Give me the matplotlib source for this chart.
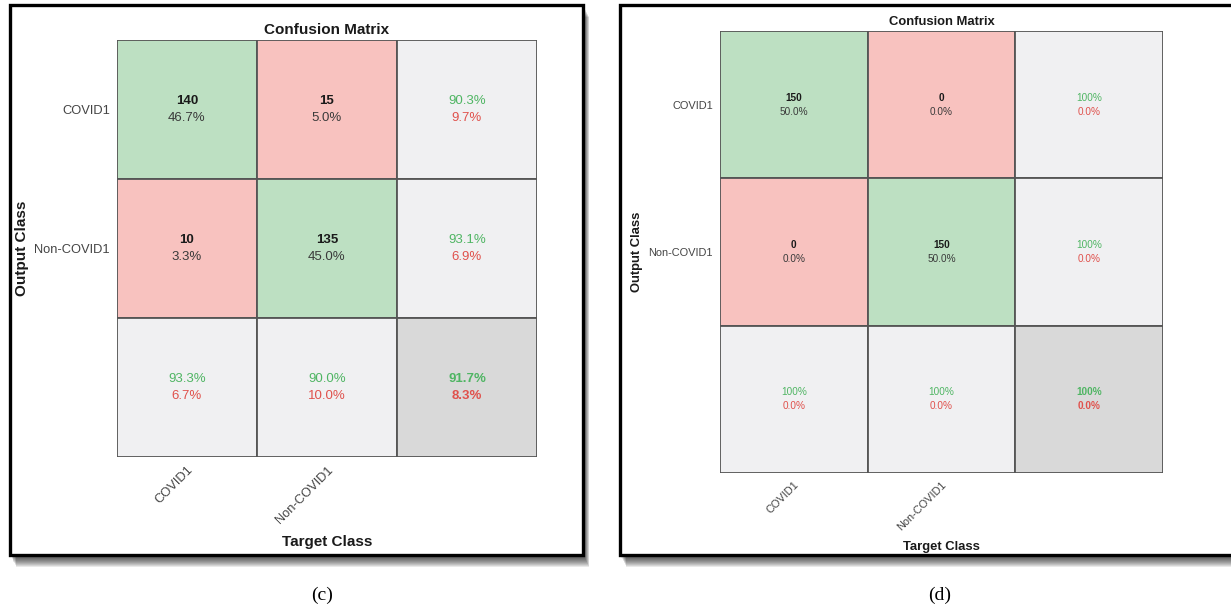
import matplotlib.pyplot as plt
from matplotlib.patches import Rectangle

W, H = 1231, 609

classes = ["COVID1", "Non-COVID1"]
counts_c = [[140, 15],
            [10, 135]]
counts_d = [[150, 0],
            [0, 150]]

GREEN_CELL = "#bde0c2"
RED_CELL = "#f8c2bf"
GREY_CELL = "#f0f0f2"
TOTAL_CELL = "#d9d9d9"
GREEN_TXT = "#4fb563"
RED_TXT = "#e0514c"
LINE = "#555555"

plt.rcParams['font.family'] = ['Liberation Sans', 'DejaVu Sans']


def px(x, y):
    return x / W, 1 - y / H


def pct(v):
    return "100%" if round(v, 1) == 100 else f"{v:.1f}%"


def frame(fig, x0, y0, x1, y1):
    # soft drop shadow, then the white card with a black border
    for i in range(12):
        off = 1 + i
        fx, fy = px(x0 + off * 0.5, y1 + off)
        fig.patches.append(Rectangle((fx, fy), (x1 - x0) / W, (y1 - y0) / H,
                                     transform=fig.transFigure, facecolor="black",
                                     alpha=0.085, edgecolor="none", zorder=-3))
    fx, fy = px(x0, y1)
    fig.patches.append(Rectangle((fx, fy), (x1 - x0) / W, (y1 - y0) / H,
                                 transform=fig.transFigure, facecolor="white",
                                 edgecolor="black", linewidth=2.4, zorder=-1))


def panel(fig, counts, grid, fs, line_gap, title_fs, label_fs, ylab_x, xlab_y):
    gx0, gy0, gx1, gy1 = grid
    l, b = px(gx0, gy1)
    ax = fig.add_axes([l, b, (gx1 - gx0) / W, (gy1 - gy0) / H])
    ax.set_zorder(2)
    ax.patch.set_alpha(0)
    n = len(counts)
    total = sum(sum(r) for r in counts)
    correct = sum(counts[i][i] for i in range(n))

    def cell(c, r, color):
        ax.add_patch(Rectangle((c, r), 1, 1, facecolor=color, edgecolor=LINE, linewidth=1.3))

    def two_lines(c, r, top, bottom, top_color, bottom_color, top_bold, bottom_bold):
        ax.annotate(top, (c + 0.5, r + 0.5), xytext=(0, line_gap / 2), textcoords="offset points",
                    ha="center", va="center", fontsize=fs, color=top_color,
                    fontweight="bold" if top_bold else "normal")
        ax.annotate(bottom, (c + 0.5, r + 0.5), xytext=(0, -line_gap / 2), textcoords="offset points",
                    ha="center", va="center", fontsize=fs, color=bottom_color,
                    fontweight="bold" if bottom_bold else "normal")

    for r in range(n):
        for c in range(n):
            cell(c, r, GREEN_CELL if r == c else RED_CELL)
            two_lines(c, r, str(counts[r][c]), pct(100 * counts[r][c] / total),
                      "#1a1a1a", "#3a3a3a", True, False)

    # row summaries (precision) on the right
    for r in range(n):
        acc = 100 * counts[r][r] / sum(counts[r])
        cell(n, r, GREY_CELL)
        two_lines(n, r, pct(acc), pct(100 - acc), GREEN_TXT, RED_TXT, False, False)

    # column summaries (recall) along the bottom
    for c in range(n):
        col = sum(counts[r][c] for r in range(n))
        acc = 100 * counts[c][c] / col
        cell(c, n, GREY_CELL)
        two_lines(c, n, pct(acc), pct(100 - acc), GREEN_TXT, RED_TXT, False, False)

    acc = 100 * correct / total
    cell(n, n, TOTAL_CELL)
    two_lines(n, n, pct(acc), pct(100 - acc), GREEN_TXT, RED_TXT, True, True)

    ax.set_xlim(0, n + 1)
    ax.set_ylim(n + 1, 0)
    for s in ax.spines.values():
        s.set_visible(False)
    ax.set_xticks([i + 0.5 for i in range(n)])
    ax.set_xticklabels(classes, rotation=45, ha="right", rotation_mode="anchor",
                       fontsize=label_fs, color="#444444")
    ax.set_yticks([i + 0.5 for i in range(n)])
    ax.set_yticklabels(classes, fontsize=label_fs, color="#444444")
    ax.tick_params(length=0, pad=5)
    ax.set_title("Confusion Matrix", fontsize=title_fs, fontweight="bold", pad=4, color="#1a1a1a")

    cx = (gx0 + gx1) / 2
    fig.text(*px(cx, xlab_y), "Target Class", ha="center", va="center",
             fontsize=title_fs, fontweight="bold", color="#1a1a1a")
    fig.text(*px(ylab_x, (gy0 + gy1) / 2), "Output Class", ha="center", va="center",
             rotation=90, fontsize=title_fs, fontweight="bold", color="#1a1a1a")
    return ax


fig = plt.figure(figsize=(W / 100, H / 100), dpi=100)

frame(fig, 10, 5, 583, 555)
panel(fig, counts_c, (117, 40, 537, 457), fs=9.5, line_gap=12, title_fs=11,
      label_fs=9.3, ylab_x=22, xlab_y=542)

frame(fig, 620, 5, 1245, 555)
panel(fig, counts_d, (720, 31, 1163, 473), fs=7.2, line_gap=10, title_fs=9.4,
      label_fs=7.9, ylab_x=637, xlab_y=547)

fig.text(*px(322, 595), "(c)", ha="center", va="center", fontsize=14,
         family="Liberation Serif")
fig.text(*px(940, 595), "(d)", ha="center", va="center", fontsize=14,
         family="Liberation Serif")

fig.savefig("out.png", dpi=100)
